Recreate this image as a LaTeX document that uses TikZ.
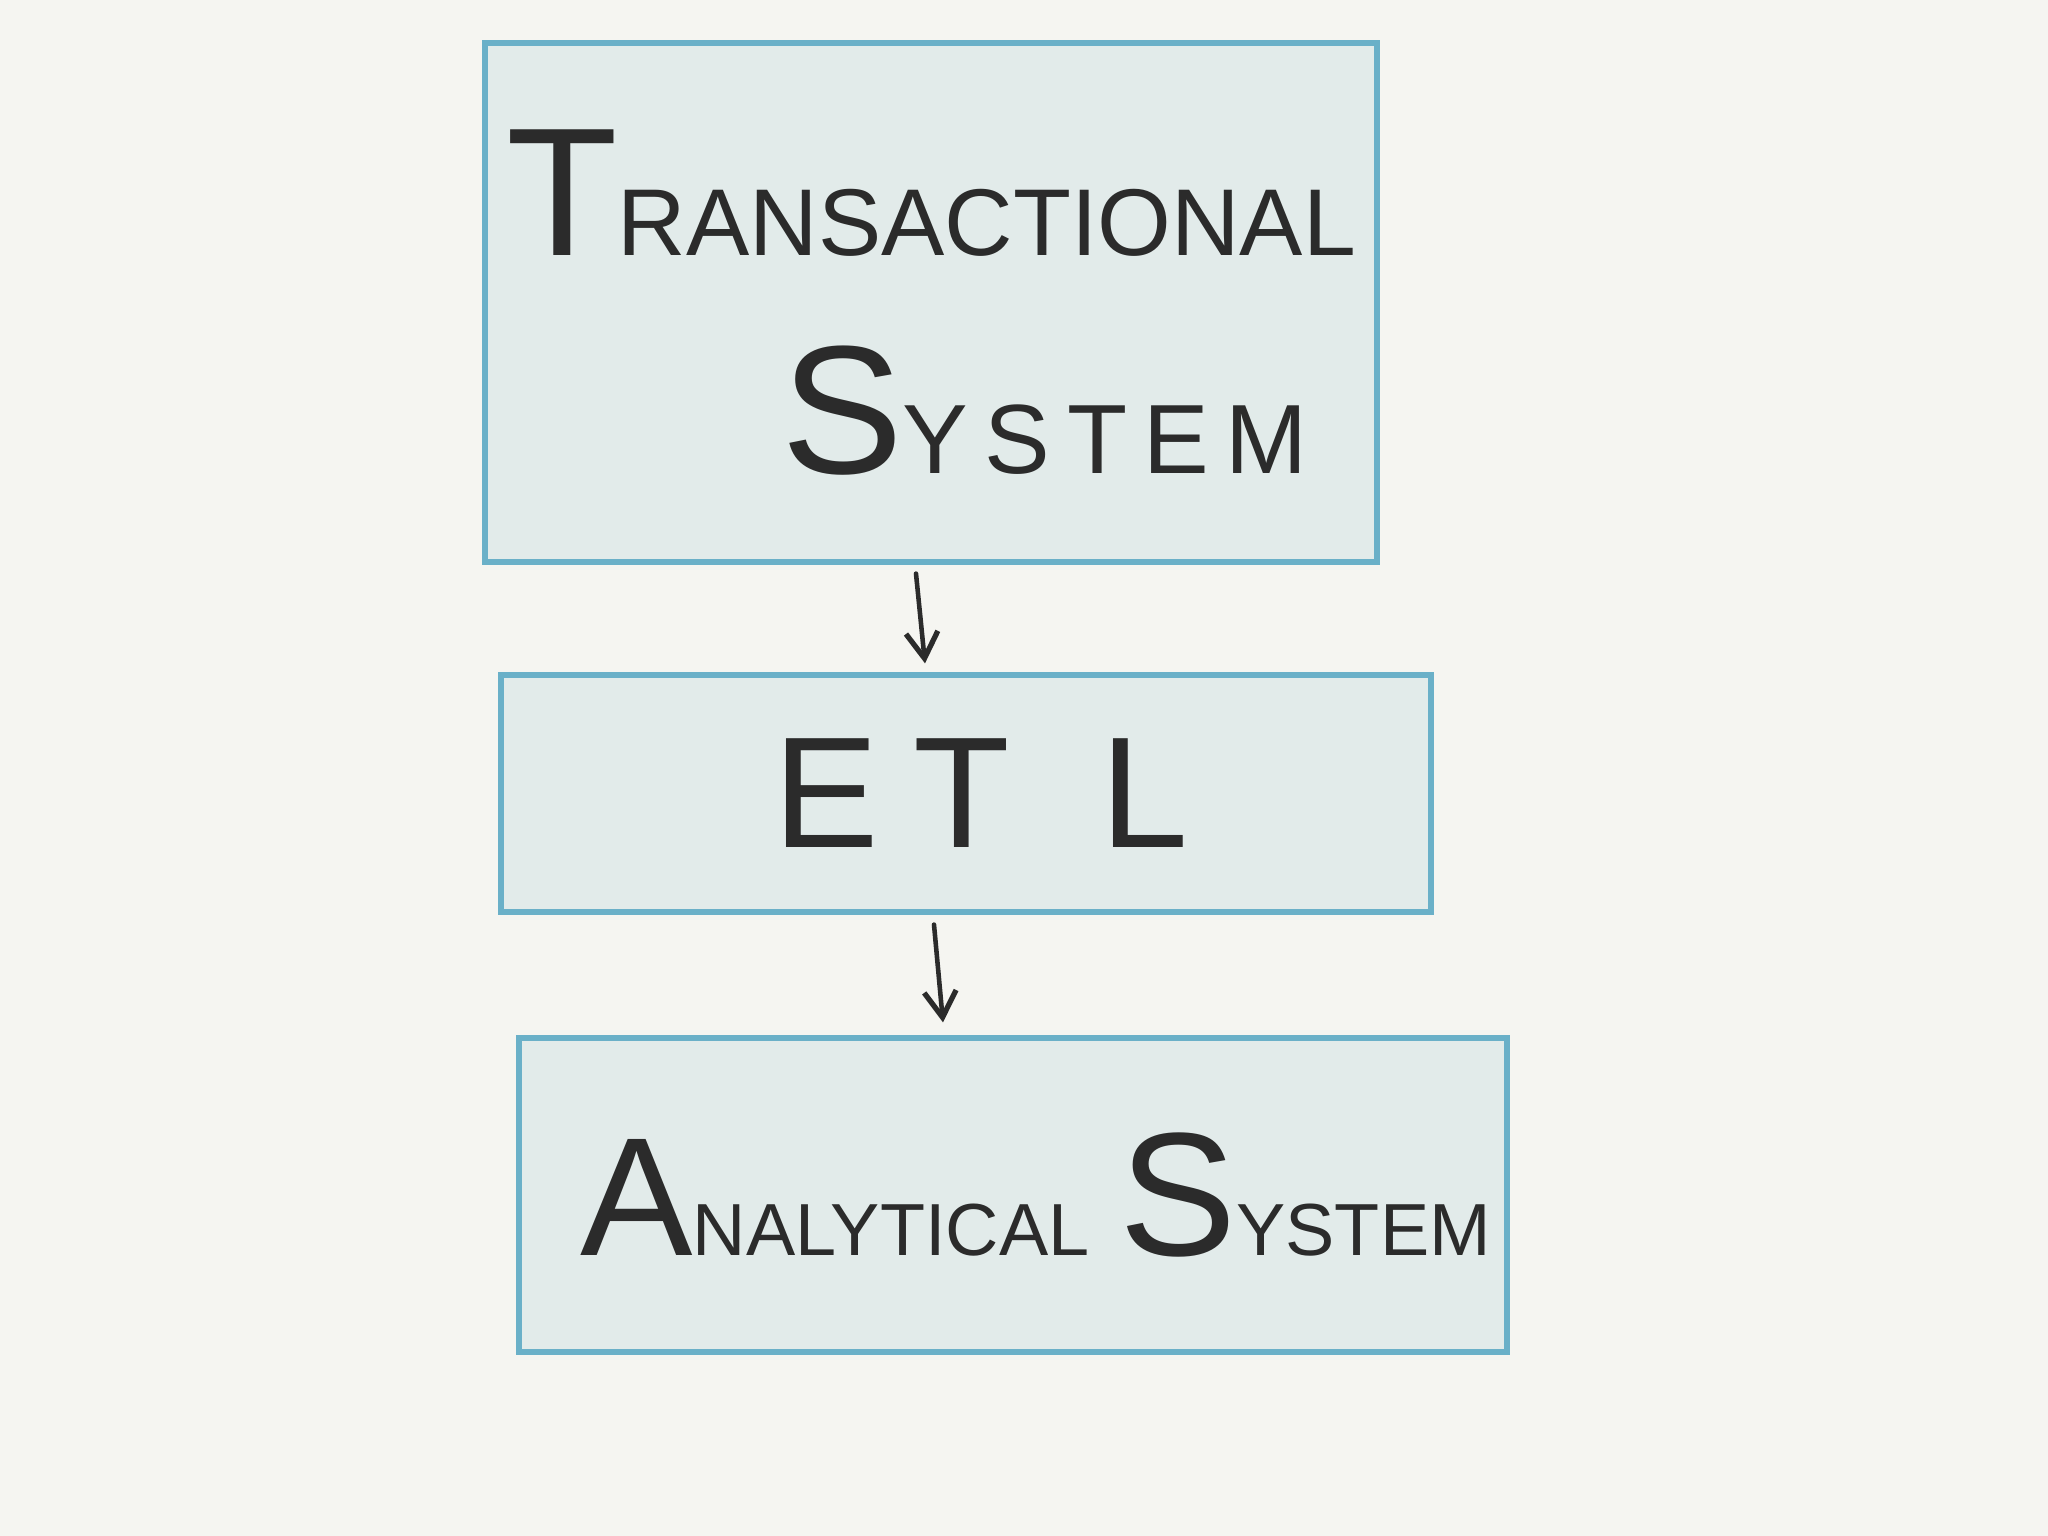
\documentclass[tikz,border=0pt]{standalone}
\usepackage{fontspec}
\setmainfont{Liberation Sans}
\usepackage{tikz}
\usetikzlibrary{arrows.meta}
\usepackage{xcolor}

\definecolor{paper}{HTML}{F5F5F1}
\definecolor{boxfill}{HTML}{E2EBEA}
\definecolor{boxline}{HTML}{6AB0C8}
\definecolor{ink}{HTML}{2B2B2B}

% hand lettering: big first letter, smaller rest
\newcommand{\hwcaps}[4]{{\fontsize{#3}{#3}\selectfont #1}{\fontsize{#4}{#4}\selectfont #2}}

\begin{document}
\begin{tikzpicture}[
    sysbox/.style={draw=boxline, line width=1.5pt, fill=boxfill, text=ink,
                   inner sep=0pt},
    flow/.style={draw=ink, line width=1.3pt, line cap=round,
                 -{Straight Barb[length=2.6mm,width=3.2mm,line width=1.5pt]}}
  ]
  \fill[paper] (0,0) rectangle (20.48,15.36);
  \useasboundingbox (0,0) rectangle (20.48,15.36);

  \node[sysbox, minimum width=8.92cm, minimum height=5.19cm, align=left,
        font=\fontsize{27}{62}\selectfont] (trans) at (9.31,12.335)
    {\hwcaps{T}{RANSACTIONAL}{52}{27}\\\hspace*{2.75cm}\hwcaps{S}{Y\,S\,T\,E\,M}{52}{28}};
  \node[sysbox, minimum width=9.30cm, minimum height=2.37cm,
        font=\fontsize{45}{45}\selectfont] (etl) at (9.66,7.425)
    {\hspace*{0.3cm}E\hspace{0.35cm}T\hspace{0.9cm}L};
  \node[sysbox, minimum width=9.88cm, minimum height=3.14cm,
        font=\fontsize{20}{40}\selectfont] (analytic) at (10.13,3.41)
    {\hspace*{0.45cm}\hwcaps{A}{NALYTICAL}{48}{21}\hspace{0.3cm}\hwcaps{S}{YSTEM}{50}{21}};

  \draw[flow] ([xshift=-0.15cm,yshift=-0.09cm]trans.south)
    -- ([xshift=-0.41cm,yshift=0.09cm]etl.north);
  \draw[flow] ([xshift=-0.32cm,yshift=-0.10cm]etl.south)
    -- ([xshift=-0.70cm,yshift=0.13cm]analytic.north);
\end{tikzpicture}
\end{document}
